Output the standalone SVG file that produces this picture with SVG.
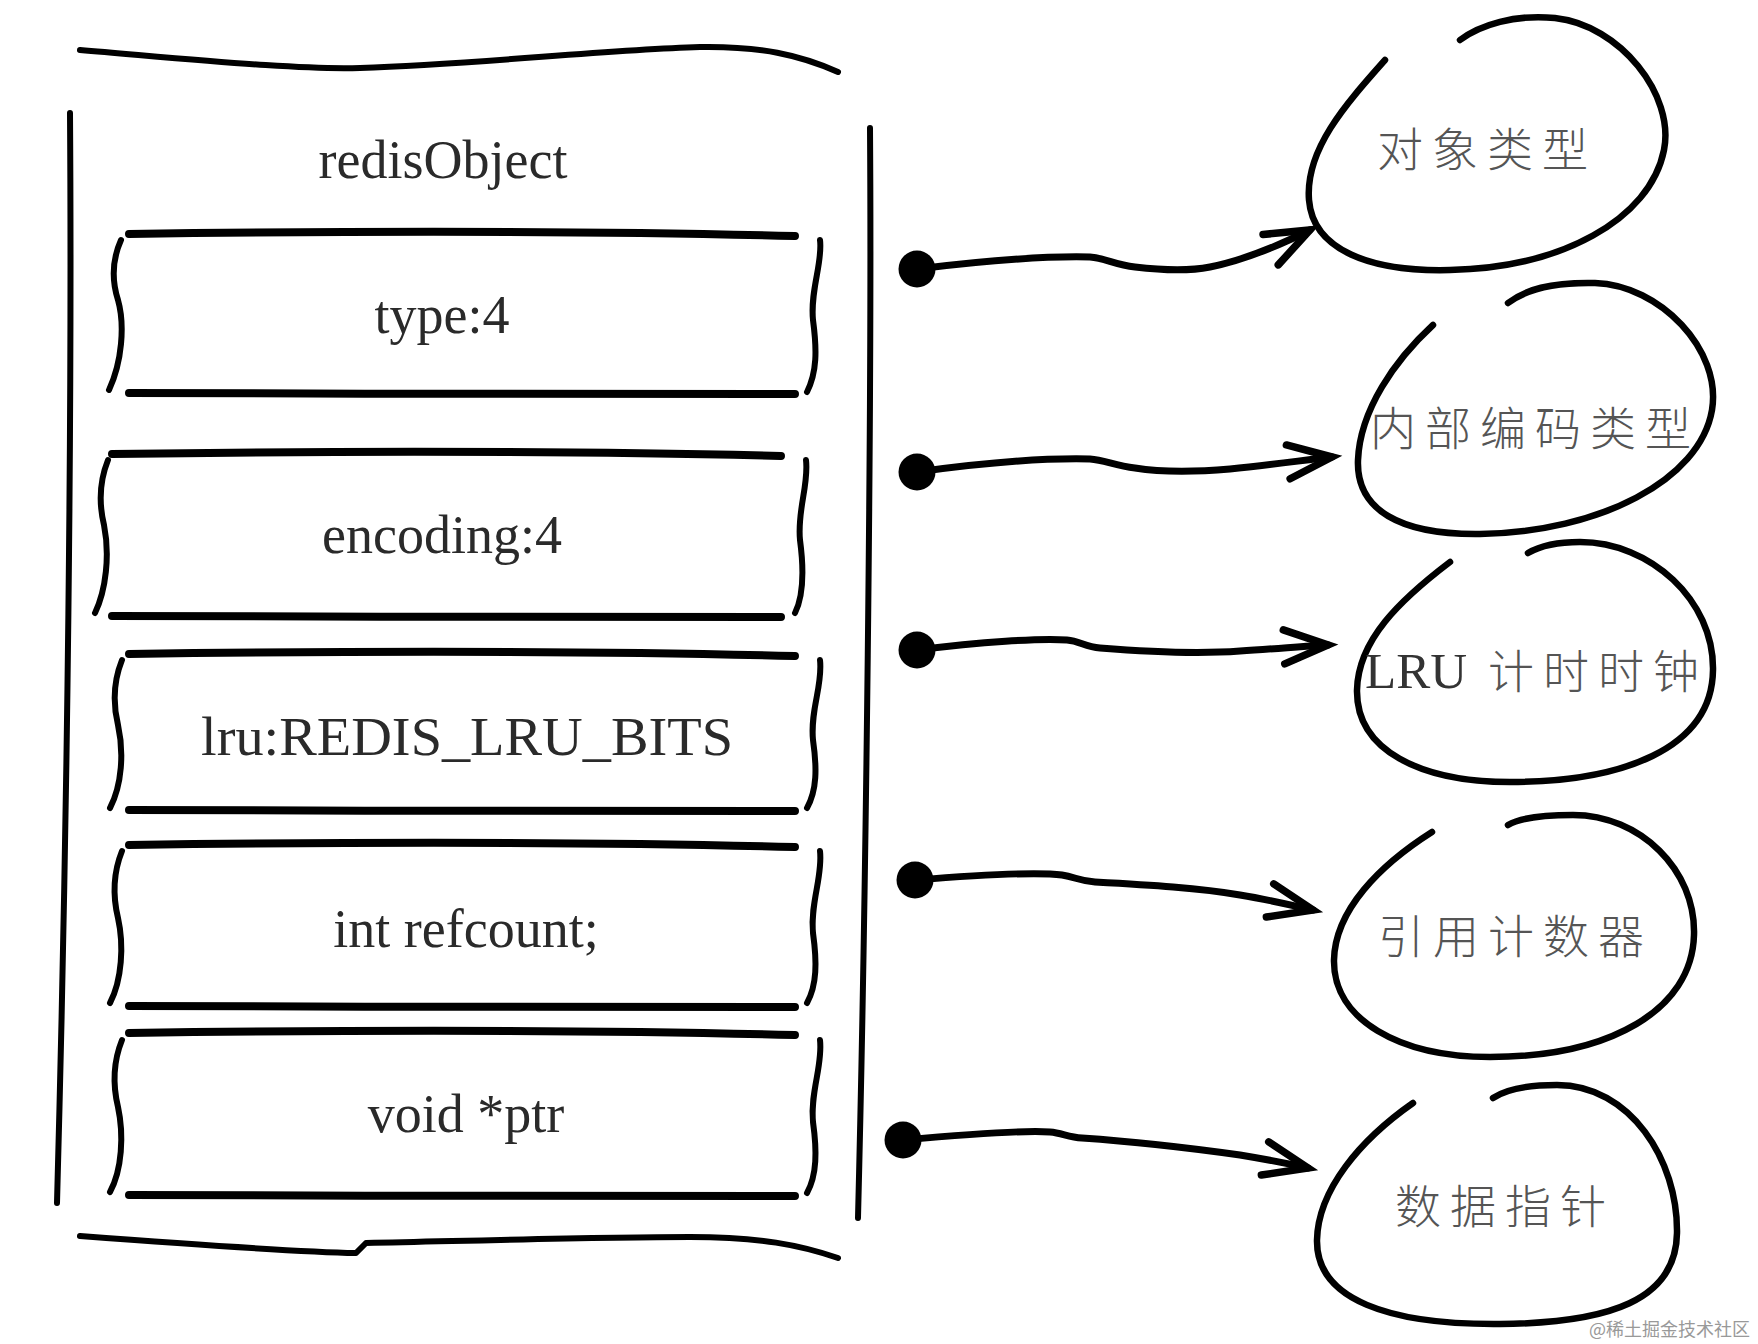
<svg xmlns="http://www.w3.org/2000/svg" width="1758" height="1344" viewBox="0 0 1758 1344">
<style>
.ink{fill:none;stroke:#000;stroke-linecap:round;stroke-linejoin:round}
.frame{stroke-width:6}
.hl{stroke-width:8}
.br{stroke-width:6}
.blob{stroke-width:6.5}
.conn{stroke-width:7}
.dot{fill:#000}
.lbl{font-family:"Liberation Serif","Times New Roman",serif;font-size:54px;fill:#2a2a2a;text-anchor:middle}
.cjk{font-family:"Noto Sans CJK SC","Noto Sans CJK TC",sans-serif;font-size:46px;fill:#555;letter-spacing:9px;font-weight:300}
.lat{font-family:"Liberation Serif","Times New Roman",serif;font-size:51px;fill:#333}
.wm{font-family:"Noto Sans CJK SC",sans-serif;font-size:18px;fill:#999;text-anchor:end}
</style>
<defs>
<marker id="ah" markerUnits="userSpaceOnUse" markerWidth="80" markerHeight="60" viewBox="-60 -30 80 60" refX="0" refY="0" orient="auto" overflow="visible">
<path d="M-44,-17 L0,0 L-44,17" fill="none" stroke="#000" stroke-width="7.5" stroke-linecap="round" stroke-linejoin="miter"/>
</marker>
</defs>
<rect width="1758" height="1344" fill="#fff"/>

<g id="redisObject">
<path class="ink frame" d="M80,50 C200,60 300,70 360,68 C480,64 600,50 700,47 C760,46 800,55 838,72"/>
<path class="ink frame" d="M70,113 C72,400 68,800 57,1203"/>
<path class="ink frame" d="M870,128 C872,400 866,900 858,1218"/>
<path class="ink frame" d="M80,1236 C200,1245 300,1252 356,1253 L366,1243 C500,1240 600,1237 690,1237 C760,1237 800,1245 838,1258"/>
<text class="lbl" x="443" y="178">redisObject</text>
</g>

<g id="field-type">
<path class="ink hl" d="M129,234 C350,231 600,231 795,236"/>
<path class="ink hl" d="M129,393 C350,395 600,392 795,394"/>
<path class="ink br" d="M121,240 C113,258 111,278 118,300 C125,325 122,362 109,390"/>
<path class="ink br" d="M820,240 C823,262 810,290 813,320 C817,350 817,372 807,392"/>
<text class="lbl" x="442" y="333">type:4</text>
</g>

<g id="field-encoding">
<path class="ink hl" d="M112,454 C330,451 580,451 781,456"/>
<path class="ink hl" d="M112,616 C330,618 580,615 781,617"/>
<path class="ink br" d="M108,460 C100,480 98,500 104,525 C110,555 106,590 95,613"/>
<path class="ink br" d="M806,460 C809,485 797,510 800,540 C804,570 804,595 795,613"/>
<text class="lbl" x="442" y="553">encoding:4</text>
</g>

<g id="field-lru">
<path class="ink hl" d="M129,654 C350,651 600,651 795,656"/>
<path class="ink hl" d="M129,810 C350,812 600,809 795,811"/>
<path class="ink br" d="M122,660 C114,680 112,700 118,725 C124,752 122,785 110,808"/>
<path class="ink br" d="M820,660 C823,685 810,710 813,740 C817,768 817,790 807,808"/>
<text class="lbl" x="467" y="755" textLength="532" lengthAdjust="spacingAndGlyphs">lru:REDIS_LRU_BITS</text>
</g>

<g id="field-refcount">
<path class="ink hl" d="M129,845 C350,842 600,842 795,847"/>
<path class="ink hl" d="M129,1006 C350,1008 600,1005 795,1007"/>
<path class="ink br" d="M122,851 C114,871 112,893 118,918 C124,945 122,980 110,1003"/>
<path class="ink br" d="M820,851 C823,876 810,903 813,933 C817,962 817,985 807,1003"/>
<text class="lbl" x="466" y="947">int refcount;</text>
</g>

<g id="field-ptr">
<path class="ink hl" d="M129,1033 C350,1030 600,1030 795,1035"/>
<path class="ink hl" d="M129,1195 C350,1197 600,1194 795,1196"/>
<path class="ink br" d="M122,1040 C114,1060 112,1082 118,1107 C124,1135 122,1170 110,1192"/>
<path class="ink br" d="M820,1040 C823,1065 810,1092 813,1122 C817,1151 817,1175 807,1193"/>
<text class="lbl" x="466" y="1132">void *ptr</text>
</g>

<g id="node-type">
<path class="ink blob" d="M1385,60 C1345,105 1305,150 1309,200 C1313,250 1370,272 1450,270 C1560,268 1650,220 1664,150 C1675,95 1620,25 1555,18 C1515,14 1480,25 1460,40"/>
<text class="cjk" x="1377" y="166">对象类型</text>
</g>

<g id="node-encoding">
<path class="ink blob" d="M1433,325 C1395,360 1360,410 1358,460 C1356,510 1400,535 1480,534 C1600,532 1700,480 1712,410 C1722,350 1660,285 1595,283 C1550,282 1525,290 1508,303"/>
<text class="cjk" x="1370" y="445">内部编码类型</text>
</g>

<g id="node-lru">
<path class="ink blob" d="M1450,562 C1400,600 1358,640 1357,690 C1356,750 1420,782 1510,782 C1620,782 1712,750 1713,670 C1714,600 1650,542 1580,542 C1555,542 1540,546 1528,553"/>
<text y="688"><tspan class="lat" x="1365">LRU</tspan><tspan class="cjk" x="1488">计时时钟</tspan></text>
</g>

<g id="node-refcount">
<path class="ink blob" d="M1432,832 C1380,865 1335,910 1334,960 C1333,1020 1400,1057 1490,1057 C1610,1057 1692,1010 1694,935 C1696,870 1640,815 1573,815 C1540,815 1520,818 1508,825"/>
<text class="cjk" x="1378" y="953">引用计数器</text>
</g>

<g id="node-ptr">
<path class="ink blob" d="M1413,1103 C1360,1140 1318,1190 1317,1240 C1316,1300 1390,1325 1500,1324 C1610,1323 1676,1300 1677,1233 C1678,1160 1630,1085 1557,1085 C1525,1085 1505,1090 1493,1098"/>
<text class="cjk" x="1395" y="1223">数据指针</text>
</g>

<g id="connectors">
<circle class="dot" cx="917" cy="269" r="18.5"/>
<path class="ink conn" marker-end="url(#ah)" d="M917,269 C990,260 1050,256 1090,257 C1105,258 1115,265 1135,267 C1160,270 1190,271 1210,267 C1245,260 1280,245 1310,230"/>
<circle class="dot" cx="917" cy="472" r="18.5"/>
<path class="ink conn" marker-end="url(#ah)" d="M917,472 C990,462 1050,458 1090,459 C1105,460 1115,466 1135,468 C1160,472 1195,472 1230,469 C1270,465 1305,460 1332,457"/>
<circle class="dot" cx="917" cy="650" r="18.5"/>
<path class="ink conn" marker-end="url(#ah)" d="M917,650 C980,642 1040,638 1067,640 C1080,641 1085,647 1100,648 C1150,652 1200,654 1240,651 C1275,649 1305,646 1328,645"/>
<circle class="dot" cx="915" cy="880" r="18.5"/>
<path class="ink conn" marker-end="url(#ah)" d="M915,880 C990,874 1040,872 1062,875 C1075,877 1080,881 1095,882 C1150,885 1200,888 1240,895 C1270,900 1295,906 1313,910"/>
<circle class="dot" cx="903" cy="1140" r="18.5"/>
<path class="ink conn" marker-end="url(#ah)" d="M903,1140 C970,1134 1025,1130 1050,1132 C1062,1133 1068,1137 1082,1138 C1140,1142 1190,1148 1240,1155 C1270,1160 1290,1164 1308,1168"/>
</g>

<text class="wm" x="1750" y="1336">@稀土掘金技术社区</text>
</svg>
